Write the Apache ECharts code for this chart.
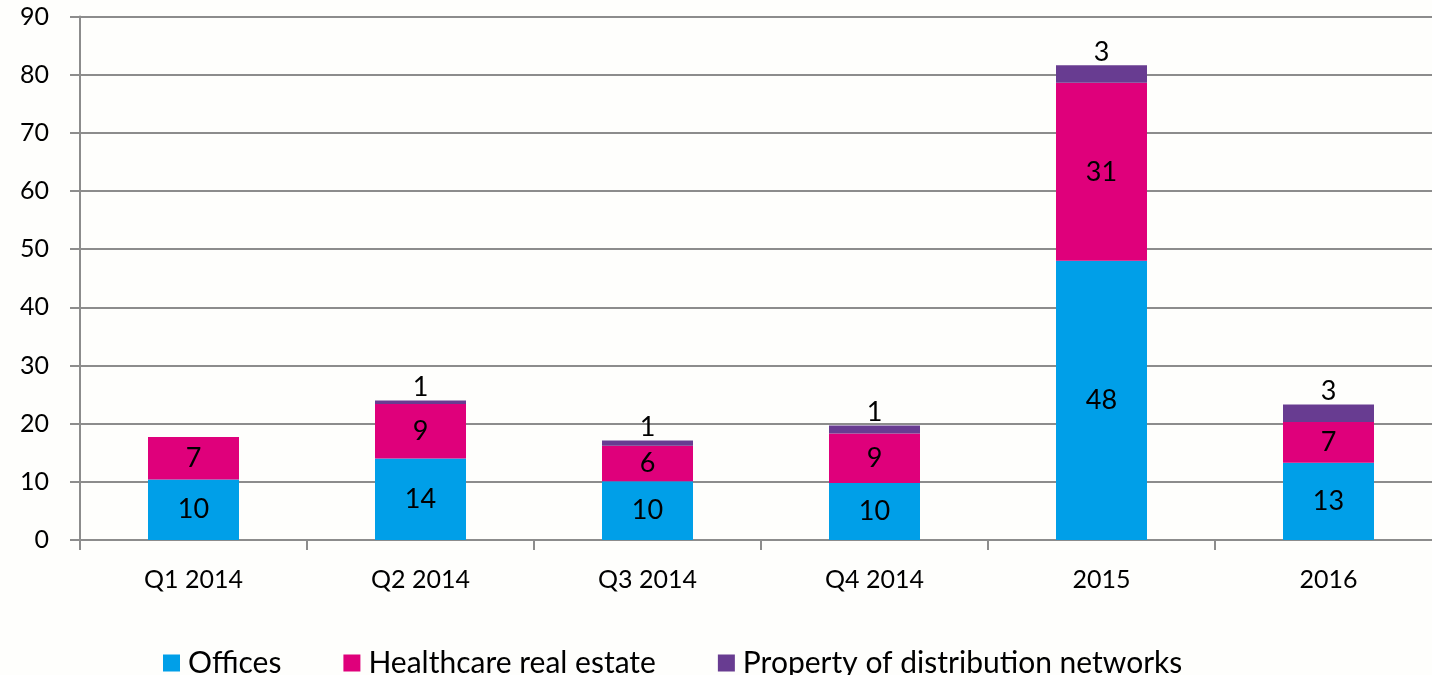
<!DOCTYPE html>
<html>
<head>
<meta charset="utf-8">
<script src="https://cdn.jsdelivr.net/npm/echarts@6/dist/echarts.min.js"></script>
<style>
html,body{margin:0;padding:0;background:#fefefc;overflow:hidden;}
#c{width:1442px;height:675px;}
</style>
</head>
<body>
<div id="c"></div>
<script>
const categories = ['Q1 2014', 'Q2 2014', 'Q3 2014', 'Q4 2014', '2015', '2016'];
const offices = [10.4, 14.0, 10.1, 9.8, 48.0, 13.3];
const healthcare = [7.3, 9.4, 6.1, 8.5, 30.6, 7.0];
const distribution = [0, 0.6, 0.9, 1.4, 3.0, 3.0];
const yTicks = { min: 0, max: 90, interval: 10 };

const FONT = 'Lato';
const chart = echarts.init(document.getElementById('c'));
const lbl = (pos) => ({
  show: true,
  position: pos,
  color: '#000',
  fontFamily: FONT,
  fontSize: 27,
  distance: 0,
  formatter: p => (p.value > 0 ? Math.round(p.value) : '')
});
chart.setOption({
  backgroundColor: '#fefefc',
  animation: false,
  textStyle: { fontFamily: FONT },
  grid: { left: 80, right: 0, top: 16.5, bottom: 135, containLabel: false },
  legend: {
    top: 643,
    left: 158,
    itemWidth: 17,
    itemHeight: 17,
    itemGap: 62,
    icon: 'rect',
    textStyle: { fontFamily: FONT, fontSize: 30, color: '#000', padding: [0, 0, 0, 3] },
    data: ['Offices', 'Healthcare real estate', 'Property of distribution networks']
  },
  xAxis: {
    type: 'category',
    data: categories,
    boundaryGap: true,
    axisLine: { lineStyle: { color: '#8c8c8c', width: 2 } },
    axisTick: { show: true, length: 10, lineStyle: { color: '#8c8c8c', width: 2 }, alignWithLabel: false },
    axisLabel: { color: '#000', fontFamily: FONT, fontSize: 25, margin: 27 }
  },
  yAxis: {
    type: 'value',
    min: yTicks.min, max: yTicks.max, interval: yTicks.interval,
    axisLine: { show: true, lineStyle: { color: '#8c8c8c', width: 2 } },
    axisTick: { show: true, length: 10, lineStyle: { color: '#8c8c8c', width: 2 } },
    splitLine: { show: true, lineStyle: { color: '#8c8c8c', width: 2 } },
    axisLabel: { color: '#000', fontFamily: FONT, fontSize: 25, margin: 31 }
  },
  series: [
    { name: 'Offices', type: 'bar', stack: 's', data: offices, barWidth: 91,
      itemStyle: { color: '#009fe8' }, label: lbl('inside') },
    { name: 'Healthcare real estate', type: 'bar', stack: 's', data: healthcare,
      itemStyle: { color: '#df007b' }, label: lbl('inside') },
    { name: 'Property of distribution networks', type: 'bar', stack: 's', data: distribution,
      itemStyle: { color: '#683c91' }, label: lbl('top') }
  ]
});
</script>
</body>
</html>
